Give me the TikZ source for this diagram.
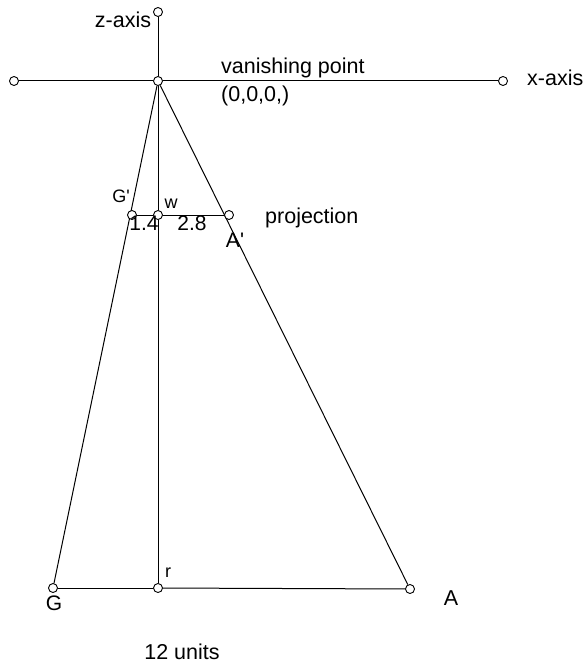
\documentclass[tikz,border=0pt]{standalone}
\usepackage{fontspec}
\setmainfont{Liberation Sans}
\pgfdeclarelayer{bg}
\pgfsetlayers{bg,main}
\begin{document}
\begin{tikzpicture}[x=1pt,y=-1pt,
  pt/.style={circle,draw,fill=white,inner sep=0pt,minimum size=9pt,line width=0.9pt},
  ln/.style={draw,line width=1pt},
  big/.style={inner sep=0pt,font=\fontsize{21.5}{24}\selectfont},
  mid/.style={inner sep=0pt,font=\fontsize{21}{24}\selectfont},
  sml/.style={inner sep=0pt,font=\fontsize{18}{21}\selectfont}]
\useasboundingbox (0,0) rectangle (586,663);
% points
\node[pt] (zt) at (158,12) {};
\node[pt] (vp) at (158,81) {};
\node[pt] (xl) at (14,81) {};
\node[pt] (xr) at (503,81) {};
\node[pt] (Gp) at (132,215) {};
\node[pt] (w) at (158,215) {};
\node[pt] (Ap) at (229,215) {};
\node[pt] (G) at (53,588) {};
\node[pt] (r) at (158,588) {};
\node[pt] (A) at (410,589) {};
% lines
\begin{pgfonlayer}{bg}
\draw[ln] (zt) -- (vp);
\draw[ln] (xl) -- (vp);
\draw[ln] (vp) -- (xr);
\draw[ln] (vp) -- (G);
\draw[ln] (vp) -- (A);
\draw[ln] (vp) -- (w);
\draw[ln] (w) -- (r);
\draw[ln] (Gp) -- (w);
\draw[ln] (w) -- (Ap);
\draw[ln] (G) -- (r);
\draw[ln] (r) -- (A);
\end{pgfonlayer}
% labels
\node[big,anchor=base] (lz) at (123,28) {z-axis};
\node[big,anchor=base west] (lvp) at (221,74) {vanishing point};
\node[big,anchor=base west] (lo) at (221,102) {(0,0,0,)};
\node[big,anchor=base west] (lx) at (527,86) {x-axis};
\node[sml,anchor=base] (lGp) at (121,202) {G\textquotesingle};
\node[sml,anchor=base] (lw) at (171,208) {w};
\node[mid,anchor=base] (l14) at (144,230) {1.4};
\node[mid,anchor=base] (l28) at (192,230) {2.8};
\node[mid,anchor=base] (lAp) at (235,247) {A\textquotesingle};
\node[big,anchor=base west] (lproj) at (265,223) {projection};
\node[mid,anchor=base] (lG) at (54,610) {G};
\node[sml,anchor=base] (lr) at (168,577) {r};
\node[big,anchor=base] (lA) at (451,605.5) {A};
\node[big,anchor=base] (l12) at (182,659) {12 units};
\end{tikzpicture}
\end{document}
